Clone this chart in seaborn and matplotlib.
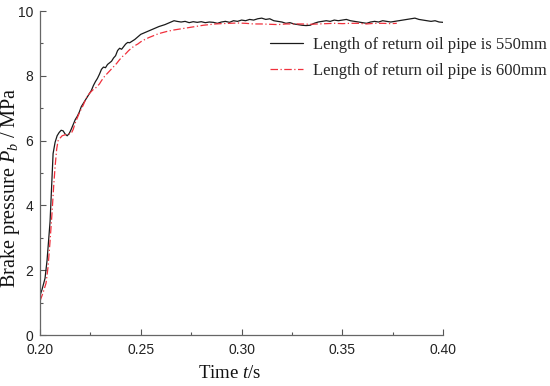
import pandas as pd
import numpy as np
import matplotlib.pyplot as plt
import seaborn as sns

# Pressão de frenagem - tubo de retorno 550 mm
t_550 = [0.200, 0.201, 0.2025, 0.2035, 0.204, 0.205, 0.2058, 0.2065, 0.2075, 0.2085,
         0.2095, 0.2105, 0.2115, 0.2125, 0.2135, 0.2145, 0.2155, 0.2165, 0.2175, 0.2185,
         0.2195, 0.2205, 0.2215, 0.2225, 0.2235, 0.2245, 0.2255, 0.2265, 0.2275, 0.2285,
         0.2295, 0.2305, 0.2315, 0.2325, 0.2335, 0.2345, 0.2355, 0.2365, 0.2375, 0.2385,
         0.2395, 0.2405, 0.2415, 0.2425, 0.2435, 0.2445, 0.2455, 0.247, 0.2485, 0.250,
         0.2515, 0.253, 0.2545, 0.256, 0.2575, 0.259, 0.2605, 0.262, 0.2635, 0.265,
         0.2665, 0.268, 0.270, 0.272, 0.274, 0.276, 0.278, 0.280, 0.282, 0.284,
         0.286, 0.288, 0.290, 0.292, 0.294, 0.296, 0.298, 0.300, 0.302, 0.304,
         0.306, 0.308, 0.310, 0.312, 0.314, 0.316, 0.318, 0.320, 0.322, 0.324,
         0.326, 0.328, 0.330, 0.332, 0.334, 0.336, 0.338, 0.340, 0.342, 0.344,
         0.346, 0.348, 0.350, 0.352, 0.354, 0.356, 0.358, 0.360, 0.362, 0.364,
         0.366, 0.368, 0.370, 0.372, 0.374, 0.376, 0.378, 0.380, 0.382, 0.384,
         0.386, 0.388, 0.390, 0.392, 0.394, 0.396, 0.398, 0.400]
p_550 = [1.22, 1.4, 1.75, 2.3, 2.7, 3.5, 4.6, 5.6, 5.95, 6.15,
         6.25, 6.32, 6.3, 6.2, 6.15, 6.22, 6.35, 6.5, 6.65, 6.75,
         6.88, 7.05, 7.15, 7.25, 7.35, 7.45, 7.55, 7.7, 7.82, 7.92,
         8.05, 8.2, 8.27, 8.25, 8.35, 8.4, 8.45, 8.55, 8.62, 8.78,
         8.85, 8.82, 8.9, 8.98, 9.03, 9.02, 9.06, 9.12, 9.2, 9.28,
         9.32, 9.36, 9.4, 9.44, 9.48, 9.52, 9.55, 9.58, 9.62, 9.66,
         9.7, 9.68, 9.66, 9.68, 9.64, 9.67, 9.65, 9.67, 9.64, 9.66,
         9.65, 9.62, 9.66, 9.68, 9.65, 9.7, 9.68, 9.72, 9.7, 9.74,
         9.72, 9.76, 9.78, 9.74, 9.76, 9.7, 9.68, 9.66, 9.62, 9.64,
         9.6, 9.58, 9.56, 9.55, 9.56, 9.62, 9.66, 9.68, 9.7, 9.68,
         9.72, 9.7, 9.72, 9.74, 9.7, 9.68, 9.66, 9.64, 9.62, 9.66,
         9.68, 9.66, 9.7, 9.68, 9.66, 9.68, 9.7, 9.72, 9.74, 9.76,
         9.78, 9.74, 9.72, 9.7, 9.68, 9.7, 9.66, 9.65]

# Pressão de frenagem - tubo de retorno 600 mm
t_600 = [0.200, 0.2015, 0.203, 0.204, 0.205, 0.206, 0.2068, 0.2075, 0.2083, 0.209,
         0.210, 0.211, 0.2125, 0.214, 0.2155, 0.2165, 0.2175, 0.2185, 0.2195, 0.2205,
         0.2215, 0.2225, 0.2235, 0.2245, 0.2255, 0.2265, 0.2275, 0.2285, 0.2295, 0.2305,
         0.232, 0.2335, 0.235, 0.2365, 0.238, 0.2395, 0.241, 0.2425, 0.244, 0.2455,
         0.247, 0.2485, 0.250, 0.252, 0.254, 0.256, 0.258, 0.260, 0.263, 0.266,
         0.269, 0.272, 0.275, 0.278, 0.281, 0.284, 0.287, 0.290, 0.294, 0.298,
         0.302, 0.306, 0.310, 0.314, 0.318, 0.322, 0.326, 0.330, 0.334, 0.338,
         0.342, 0.346, 0.350, 0.354, 0.358, 0.362, 0.366, 0.370, 0.374, 0.377]
p_600 = [1.05, 1.3, 1.6, 2.1, 2.9, 3.8, 4.6, 5.2, 5.75, 6.0,
         6.08, 6.15, 6.18, 6.2, 6.22, 6.35, 6.55, 6.7, 6.85, 6.98,
         7.1, 7.25, 7.38, 7.45, 7.52, 7.58, 7.62, 7.68, 7.75, 7.85,
         7.98, 8.08, 8.18, 8.28, 8.38, 8.5, 8.6, 8.68, 8.78, 8.86,
         8.93, 8.98, 9.05, 9.12, 9.18, 9.23, 9.28, 9.32, 9.37, 9.41,
         9.44, 9.47, 9.5, 9.53, 9.56, 9.58, 9.6, 9.61, 9.62, 9.63,
         9.62, 9.6, 9.6, 9.59, 9.58, 9.6, 9.6, 9.6, 9.59, 9.6,
         9.61, 9.62, 9.61, 9.62, 9.62, 9.6, 9.62, 9.62, 9.61, 9.62]

LABEL_550 = 'Length of return oil pipe is 550mm'
LABEL_600 = 'Length of return oil pipe is 600mm'

sns.set_theme(style="ticks")
plt.rcParams['font.family'] = ['Liberation Sans', 'DejaVu Sans']
plt.rcParams['mathtext.fontset'] = 'custom'
plt.rcParams['mathtext.rm'] = 'Liberation Serif'
plt.rcParams['mathtext.it'] = 'Liberation Serif:italic'

df_550 = pd.DataFrame({'t': t_550, 'p': p_550})
df_600 = pd.DataFrame({'t': t_600, 'p': p_600})

fig = plt.figure(figsize=(5.5, 3.86), dpi=100)
ax = fig.add_axes([0.0727, 0.132, 0.733, 0.8395])

sns.lineplot(data=df_550, x='t', y='p', ax=ax, color='#1a1a1a', linewidth=0.9,
             label=LABEL_550, sort=False)
sns.lineplot(data=df_600, x='t', y='p', ax=ax, color='#f0303c', linewidth=0.9,
             linestyle=(0, (6, 2, 1, 2)), label=LABEL_600, sort=False)

ax.set_xlim(0.20, 0.40)
ax.set_ylim(0, 10)
ax.set_xticks(np.arange(0.20, 0.401, 0.05))
ax.set_xticklabels(['0.20', '0.25', '0.30', '0.35', '0.40'])
ax.set_xticks(np.arange(0.225, 0.40, 0.05), minor=True)
ax.set_yticks([0, 2, 4, 6, 8, 10])
ax.set_yticks([1, 3, 5, 7, 9], minor=True)
ax.tick_params(which='major', direction='in', length=4, width=0.8, colors='#555555',
               labelcolor='#222222', labelsize=10)
ax.tick_params(which='minor', direction='in', length=2.5, width=0.8, colors='#555555')
ax.tick_params(axis='x', which='major', pad=6)
ax.tick_params(axis='y', which='major', pad=5)
for s in ['top', 'right']:
    ax.spines[s].set_visible(False)
for s in ['left', 'bottom']:
    ax.spines[s].set_color('#666666')
    ax.spines[s].set_linewidth(0.9)

ax.set_xlabel(r'Time $t$/s', family='Liberation Serif', fontsize=13.5, color='#111111')
ax.set_ylabel(r'Brake pressure $P_b$ / MPa', family='Liberation Serif', fontsize=14.5,
              color='#111111')
ax.xaxis.set_label_coords(0.47, -0.093)
ax.yaxis.set_label_coords(-0.045, 0.454)

ax.legend(loc='upper left', bbox_to_anchor=(0.554, 0.94), frameon=False,
          prop={'family': 'Liberation Serif', 'size': 12}, handlelength=2.0,
          handletextpad=0.6, labelspacing=0.6, borderaxespad=0)

plt.savefig('out.png', dpi=100)
plt.close()
